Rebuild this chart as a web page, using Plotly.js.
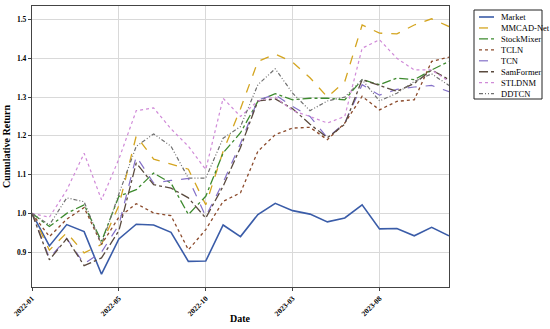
<!DOCTYPE html>
<html>
<head>
<meta charset="utf-8">
<script src="https://cdn.plot.ly/plotly-3.0.1.min.js"></script>
<style>html,body{margin:0;padding:0;background:#fff}#chart{width:550px;height:329px}</style>
</head>
<body>
<div id="chart"></div>
<script>
// monthly steps (index), labels shown every 5 steps
var steps = [0,1,2,3,4,5,6,7,8,9,10,11,12,13,14,15,16,17,18,19,20,21,22,23,24];
var tickPos = [0,5,10,15,20];
var tickLabels = ["2022-01","2022-05","2022-10","2023-03","2023-08"];

var market     = [1.0,0.916,0.971,0.953,0.843,0.934,0.972,0.970,0.951,0.876,0.877,0.970,0.940,0.997,1.026,1.007,0.998,0.978,0.988,1.022,0.960,0.961,0.942,0.964,0.942];
var mmcadNet   = [1.0,0.905,0.950,0.898,0.920,1.020,1.200,1.140,1.127,1.114,1.022,1.160,1.270,1.392,1.411,1.390,1.350,1.300,1.340,1.486,1.465,1.463,1.486,1.502,1.482];
var stockMixer = [1.0,0.966,1.000,1.022,0.928,1.044,1.061,1.104,1.078,0.997,1.044,1.156,1.208,1.289,1.309,1.293,1.297,1.297,1.293,1.345,1.332,1.349,1.345,1.370,1.392];
var tcln       = [1.0,0.940,0.985,1.015,0.920,0.990,1.025,1.001,0.994,0.906,0.958,1.031,1.053,1.160,1.203,1.220,1.222,1.190,1.233,1.302,1.267,1.289,1.293,1.392,1.403];
var tcn        = [1.0,0.885,0.935,0.870,0.900,0.970,1.147,1.078,1.085,1.090,0.992,1.080,1.180,1.293,1.306,1.276,1.250,1.195,1.233,1.332,1.305,1.320,1.326,1.330,1.314];
var samFormer  = [1.0,0.880,0.935,0.865,0.885,0.955,1.130,1.074,1.065,1.040,0.988,1.070,1.170,1.290,1.295,1.270,1.230,1.195,1.230,1.345,1.330,1.315,1.335,1.370,1.345];
var stldnm     = [1.0,0.990,1.060,1.155,1.035,1.140,1.265,1.272,1.218,1.173,1.113,1.297,1.250,1.290,1.300,1.265,1.250,1.233,1.250,1.426,1.448,1.400,1.370,1.370,1.340];
var ddtcn      = [1.0,0.970,1.040,1.030,0.920,1.050,1.173,1.205,1.173,1.091,1.091,1.194,1.224,1.332,1.373,1.310,1.265,1.290,1.300,1.345,1.290,1.310,1.340,1.360,1.330];

var names  = ["Market","MMCAD-Net","StockMixer","TCLN","TCN","SamFormer","STLDNM","DDTCN"];
var series = [market,mmcadNet,stockMixer,tcln,tcn,samFormer,stldnm,ddtcn];
var colors = ["#3a5ca8","#d4a520","#3d8a2e","#8b4a2b","#8470c8","#5a4a3e","#d08ad8","#707070"];
var dashes = ["solid","dash","dashdot","dot","dash","dashdot","dot","4px,2px,1px,2px,1px,2px"];
var widths = [1.6,1.3,1.3,1.3,1.2,1.3,1.2,1.2];

var traces = series.map(function(s,i){
  return {x: steps, y: s, type:"scatter", mode:"lines", name: names[i],
          line:{color: colors[i], dash: dashes[i], width: widths[i]}};
});

// plot area in pixels
var W = 550, H = 329, L = 32, R = 449, T = 6, B = 287;
function px(x){ return (x - L) / (R - L); }
function py(y){ return (B - y) / (B - T); }

var serif = "Liberation Serif, Times New Roman, serif";

// custom compact legend (matplotlib-like)
var shapes = [{type:"rect", xref:"paper", yref:"paper",
  x0:px(474), x1:px(542), y0:py(99), y1:py(10),
  line:{color:"#222", width:1}, fillcolor:"#fff", layer:"above"}];
var annotations = [];
names.forEach(function(n,i){
  var yy = 17 + i * 10.95;
  shapes.push({type:"line", xref:"paper", yref:"paper",
    x0:px(479), x1:px(494), y0:py(yy), y1:py(yy),
    line:{color:colors[i], dash:dashes[i], width:widths[i]}, layer:"above"});
  annotations.push({xref:"paper", yref:"paper", x:px(499), y:py(yy),
    xanchor:"left", yanchor:"middle", text:n, showarrow:false,
    font:{family:serif, size:8.5, color:"#000"}});
});
// x-axis title
annotations.push({xref:"paper", yref:"paper", x:px(240), y:py(318),
  xanchor:"center", yanchor:"middle", text:"<b>Date</b>", showarrow:false,
  font:{family:serif, size:10, color:"#000"}});

var layout = {
  width:W, height:H,
  margin:{l:L, r:W-R, t:T, b:H-B, autoexpand:false},
  paper_bgcolor:"#fff", plot_bgcolor:"#fff",
  font:{family:serif, color:"#000", size:8},
  showlegend:false,
  shapes:shapes, annotations:annotations,
  xaxis:{range:[0,24], tickvals:tickPos, ticktext:tickLabels, tickangle:-45,
         automargin:false,
         showgrid:true, gridcolor:"#d9d9d9", gridwidth:1, zeroline:false,
         showline:true, linecolor:"#444", linewidth:1.2, mirror:true,
         ticks:"outside", ticklen:3, tickcolor:"#444",
         tickfont:{family:serif, size:7.5, color:"#000", weight:"bold"}},
  yaxis:{range:[0.81,1.535], tickvals:[0.9,1.0,1.1,1.2,1.3,1.4,1.5],
         ticktext:["0.9","1.0","1.1","1.2","1.3","1.4","1.5"],
         automargin:false,
         showgrid:true, gridcolor:"#d9d9d9", gridwidth:1, zeroline:false,
         showline:true, linecolor:"#444", linewidth:1.2, mirror:true,
         ticks:"outside", ticklen:3, tickcolor:"#444",
         tickfont:{family:serif, size:7.5, color:"#000", weight:"bold"},
         title:{text:"<b>Cumulative Return</b>", font:{family:serif, size:10, color:"#000"}, standoff:4}}
};
Plotly.newPlot("chart", traces, layout, {displayModeBar:false, staticPlot:true});
</script>
</body>
</html>
